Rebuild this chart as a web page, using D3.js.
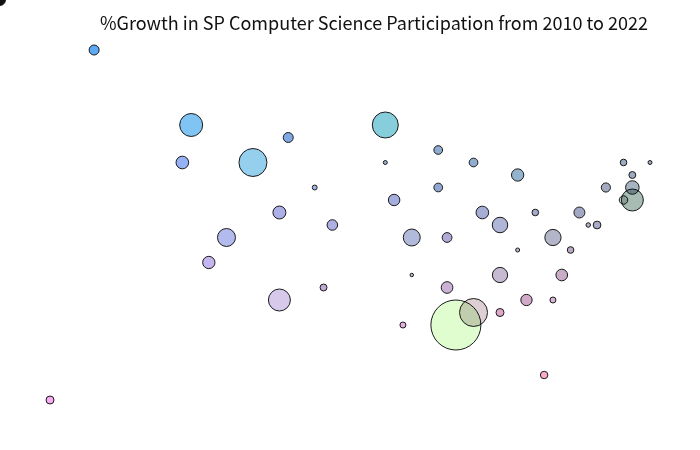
<!DOCTYPE html>
<html><head><meta charset="utf-8">
<script src="https://cdn.jsdelivr.net/npm/d3@7"></script>
<style>html,body{margin:0;padding:0;background:#fff;overflow:hidden}svg{display:block}</style>
</head><body><svg id="c" width="700" height="450"></svg>
<script>
const titleText = "%Growth in SP Computer Science Participation from 2010 to 2022";
const xRank = [-5.67,5,16,27,15,23,30,26,32,20,18,31,26,0,38,44,38,48,53,44,39,49,51,55,60,65,68,66,63,66,66,65,61,62,41,45,57,53,59,41,51,58,45,48,46,54,57,51,40,56];
const yRank = [0,4,10,11,13,13,15,17,18,19,21,23,24,32,10,12,13,13,14,15,16,17,18,17,17,13,13,14,15,15,16,16,18,18,19,19,19,20,20,22,22,22,23,25,26,24,24,25,26,30];
const sizes = [30,25,132,25,40,196,6,42,28,81,38,12,121,16,169,19,4,19,38,19,33,40,60,11,30,11,4,12,21,46,121,18,5,15,72,24,66,4,11,3,58,34,34,196,625,32,9,16,9,14];
const colors = ["#111111","#5ea9f5","#80c4f4","#7fa8e2","#96b2f6","#94d0ee","#a4b6e8","#acb0e8","#aeb0e4","#b2baee","#c5b5ee","#bea9da","#d6c9ea","#f9aaf3","#86cedc","#8eabd2","#98b0d0","#90add0","#94b3cd","#90a7d2","#a4aedc","#a6aed6","#b0b6d7","#a6aaca","#a2a8c4","#9caac2","#9caac2","#9cacbe","#a2aac0","#a6b4c0","#a8bcb4","#d0d4d4","#b4b4c8","#a8acc6","#b2badc","#b0aad5","#b2b6c8","#bcb4cc","#bcaac4","#ccb4d4","#c6bad2","#c9acc8","#cbb1d6","#dcd0d4","#e0fdd0","#d0aac8","#d8b4d4","#dea8ca","#e4b0e2","#fbaace"];

const svg = d3.select("#c");
const x = d3.scaleLinear().domain([0,68]).range([50,650]);
const y = d3.scaleLinear().domain([0,32]).range([0,400]);
const r = d3.scaleSqrt().domain([0,625]).range([0,25]);

svg.selectAll("circle").data(xRank).join("circle")
  .attr("cx",(d)=>x(d))
  .attr("cy",(d,i)=>y(yRank[i]))
  .attr("r",(d,i)=>r(sizes[i]))
  .attr("fill",(d,i)=>colors[i])
  .attr("stroke","#1a1a1a")
  .attr("stroke-width",1)
  .style("mix-blend-mode","multiply");

svg.append("text").attr("x",100).attr("y",30)
  .attr("font-family","'Noto Sans CJK JP','Noto Sans',sans-serif")
  .attr("font-size",18).attr("fill","#111")
  .attr("textLength",548)
  .text(titleText);
</script></body></html>
